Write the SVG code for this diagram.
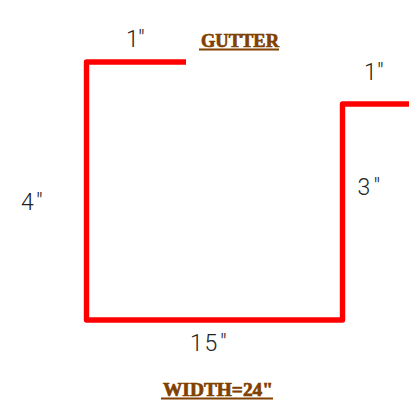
<svg xmlns="http://www.w3.org/2000/svg" width="420" height="402" viewBox="0 0 420 402">
<style>
.gutter{fill:none;stroke:#ff0000;stroke-width:5.400;stroke-linejoin:round}
.dim{font-family:"Roboto","Liberation Sans",sans-serif;font-weight:300;font-size:23px;fill:#222}
.title{font-family:"Liberation Serif","DejaVu Serif",serif;font-weight:700;fill:#804000;stroke:#804000;stroke-width:.7;font-size:19px}
.rule{stroke:#804000;stroke-width:1.8}
</style>
<rect width="420" height="402" fill="#fff"/>
<g id="profile">
<path class="gutter" d="M186 62H86.500V320H342.500V104H409"/>
</g>
<g id="dimensions">
<text class="dim" y="46.500" x="126 138">1"</text>
<text class="dim" y="79.500" x="364 377">1"</text>
<text class="dim" y="209.500" x="21 36">4"</text>
<text class="dim" y="195" x="357.500 373.500">3"</text>
<text class="dim" y="350.500" x="190 204.500 220">15"</text>
</g>
<g id="titles">
<text class="title" x="201" y="46.500" textLength="78" lengthAdjust="spacingAndGlyphs">GUTTER</text>
<line class="rule" x1="199" y1="49.500" x2="279" y2="49.500"/>
<text class="title" x="163" y="395.500" textLength="110" lengthAdjust="spacingAndGlyphs">WIDTH=24"</text>
<line class="rule" x1="161" y1="398.500" x2="273" y2="398.500"/>
</g>
</svg>
